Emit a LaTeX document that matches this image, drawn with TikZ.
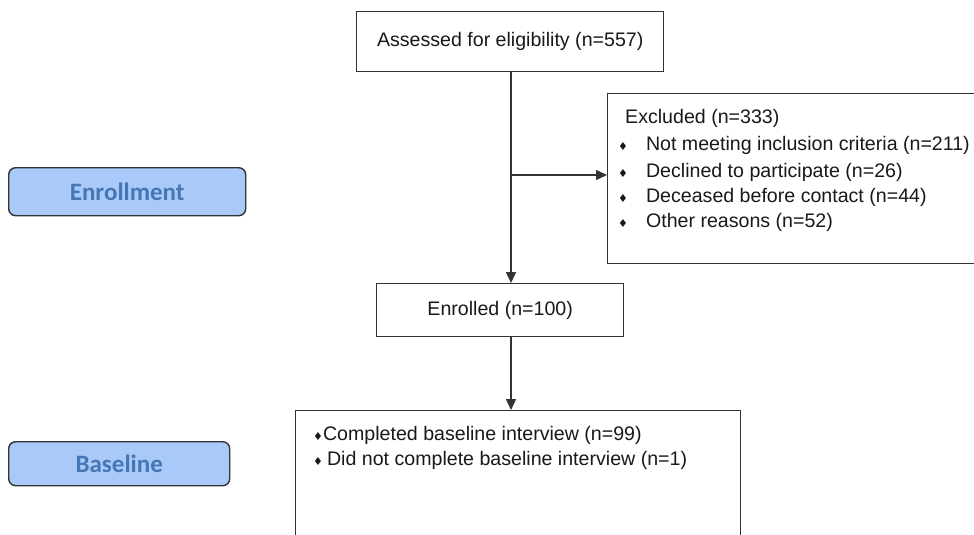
\documentclass[tikz,border=0pt]{standalone}
\usepackage{fontspec}
\setmainfont{Liberation Sans}
\newfontfamily\phasefont{Carlito}
\newfontfamily\bulletfont{DejaVu Sans}
\usetikzlibrary{arrows.meta}
\definecolor{phasefill}{HTML}{A9C9F9}
\definecolor{phasetext}{HTML}{4677B4}
\definecolor{boxline}{HTML}{333333}
\tikzset{
  flowbox/.style={draw=boxline, line width=1.4pt, fill=white, anchor=north west, inner sep=0pt},
  phasebox/.style={draw=boxline, line width=1.4pt, fill=phasefill, rounded corners=7pt, anchor=north west, inner sep=0pt},
  phaselabel/.style={font=\phasefont\bfseries\fontsize{25}{30}\selectfont, text=phasetext},
  boxtext/.style={font=\fontsize{19.6}{23}\selectfont, text=black!90, inner sep=0pt},
  listtext/.style={boxtext, anchor=west},
  flowarrow/.style={draw=boxline, line width=1.3pt, -{Triangle[length=11pt,width=10pt]}},
  flowline/.style={draw=boxline, line width=1.3pt},
}
\newcommand{\dbul}{{\bulletfont\fontsize{11}{11}\selectfont\char"2666}}
\begin{document}
\begin{tikzpicture}[x=1pt,y=-1pt]
\useasboundingbox (0,0) rectangle (974,535);
\fill[white] (0,0) rectangle (974,535);

% phase labels
\node[phasebox, minimum width=237pt, minimum height=48pt] (enrollbox) at (8,167) {};
\node[phaselabel] (enrolllab) at (enrollbox.center) {Enrollment};
\node[phasebox, minimum width=221pt, minimum height=44pt] (basebox) at (8,441) {};
\node[phaselabel] (baselab) at (basebox.center) {Baseline};

% flow boxes
\node[flowbox, minimum width=307pt, minimum height=60pt] (assess) at (356,11) {};
\node[boxtext] (assesstxt) at (assess.center) {Assessed for eligibility (n=557)};

\node[flowbox, minimum width=380pt, minimum height=170pt] (excl) at (607,93) {};
\node[listtext] (ex0) at (625,118) {Excluded (n=333)};
\node[listtext] (ex1) at (618,145) {\dbul\hspace{18pt}Not meeting inclusion criteria (n=211)};
\node[listtext] (ex2) at (618,172) {\dbul\hspace{18pt}Declined to participate (n=26)};
\node[listtext] (ex3) at (618,197) {\dbul\hspace{18pt}Deceased before contact (n=44)};
\node[listtext] (ex4) at (618,222) {\dbul\hspace{18pt}Other reasons (n=52)};

\node[flowbox, minimum width=247pt, minimum height=53pt] (enrolled) at (376,283) {};
\node[boxtext] (enrolledtxt) at (enrolled.center) {Enrolled (n=100)};

\node[flowbox, minimum width=445pt, minimum height=150pt] (baseline) at (295,410) {};
\node[listtext] (bl1) at (313,435) {\dbul Completed baseline interview (n=99)};
\node[listtext] (bl2) at (313,460) {\dbul\hspace{4pt}Did not complete baseline interview (n=1)};

% connectors
\coordinate (col) at (511,0);
\coordinate (top) at (col |- assess.south);
\coordinate (branch) at (511,175);
\coordinate (enrtop) at (col |- enrolled.north);
\coordinate (enrbot) at (col |- enrolled.south);
\coordinate (basetop) at (col |- baseline.north);
\draw[flowarrow] (top) -- (enrtop);
\draw[flowarrow] (branch) -- (excl.west |- branch);
\draw[flowarrow] (enrbot) -- (basetop);
\end{tikzpicture}
\end{document}
